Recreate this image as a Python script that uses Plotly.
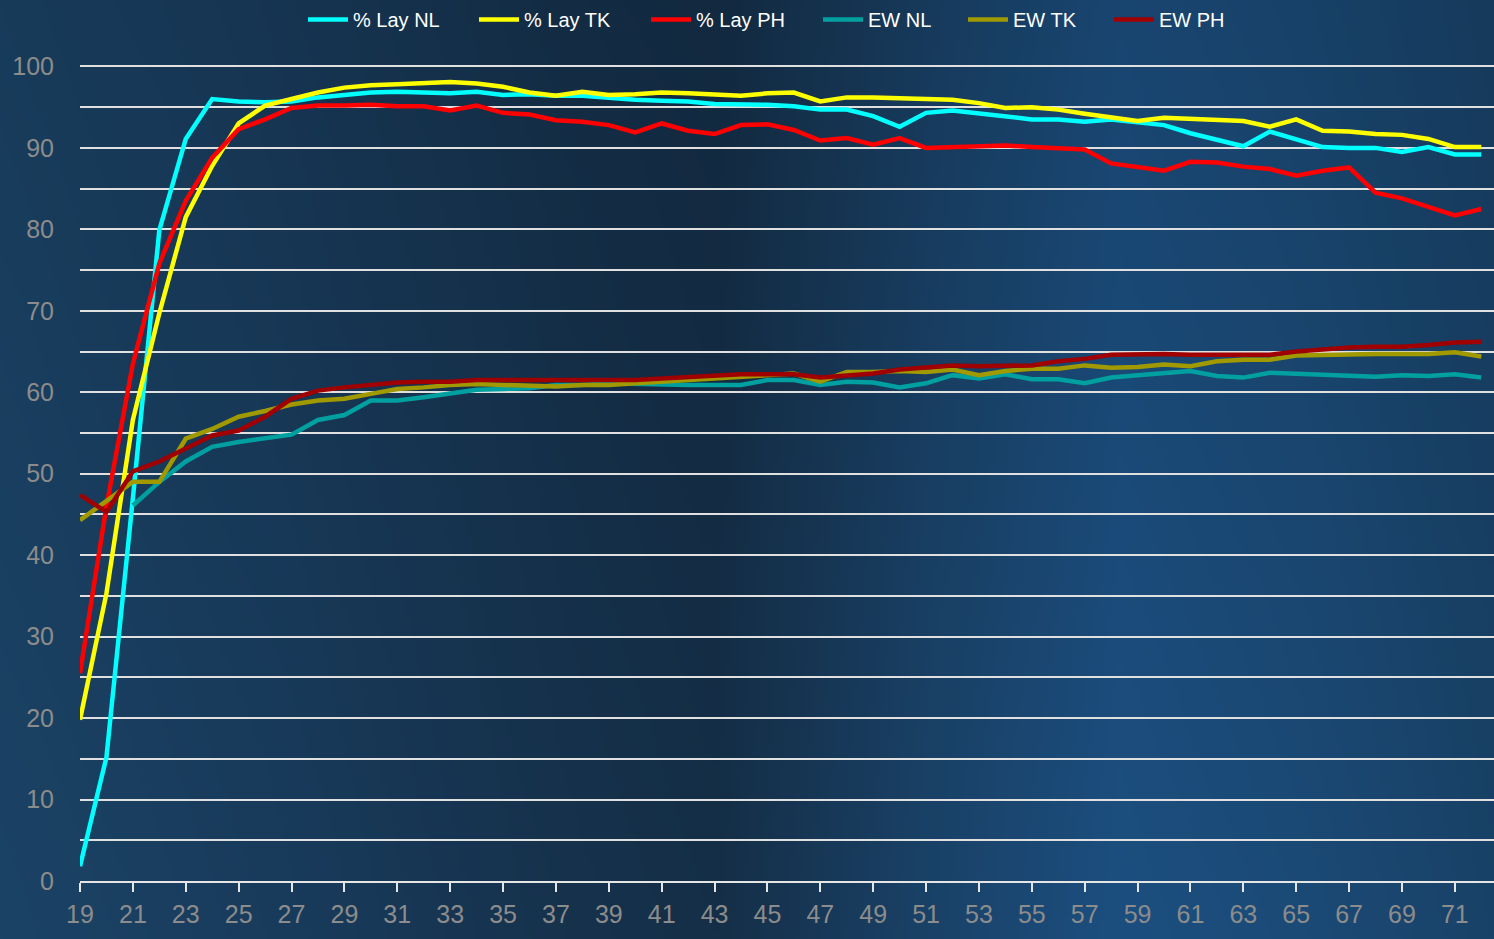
import zlib, struct, base64
import plotly.graph_objects as go

weeks = list(range(19, 73))

lay_nl = [1.8, 15.2, 47.0, 79.9, 91.1, 96.0, 95.7, 95.6, 95.7, 96.2, 96.5, 96.8, 96.9, 96.8, 96.7,
          96.9, 96.5, 96.6, 96.4, 96.4, 96.1, 95.9, 95.8, 95.7, 95.4, 95.4, 95.3, 95.1, 94.7, 94.7,
          93.9, 92.6, 94.3, 94.6, 94.2, 93.9, 93.5, 93.5, 93.2, 93.5, 93.2, 92.8, 91.8, 91.0, 90.2,
          92.0, 91.1, 90.1, 90.0, 90.0, 89.5, 90.1, 89.2, 89.2]
lay_tk = [19.8, 35.3, 56.6, 69.7, 81.5, 87.8, 93.0, 95.2, 96.0, 96.8, 97.4, 97.7, 97.8, 98.0, 98.1,
          97.9, 97.5, 96.8, 96.4, 96.9, 96.5, 96.6, 96.8, 96.7, 96.6, 96.4, 96.7, 96.8, 95.7, 96.2,
          96.2, 96.1, 96.0, 95.9, 95.5, 94.9, 95.0, 94.7, 94.2, 93.8, 93.3, 93.7, 93.6, 93.5, 93.3,
          92.6, 93.5, 92.1, 92.0, 91.7, 91.6, 91.1, 90.1, 90.1]
lay_ph = [25.5, 46.0, 63.5, 75.8, 83.5, 88.8, 92.3, 93.5, 94.9, 95.2, 95.2, 95.3, 95.1, 95.1, 94.6,
          95.2, 94.3, 94.1, 93.4, 93.2, 92.8, 91.9, 93.0, 92.1, 91.7, 92.8, 92.9, 92.2, 90.9, 91.2,
          90.4, 91.2, 90.0, 90.1, 90.2, 90.3, 90.1, 90.0, 89.8, 88.1, 87.6, 87.2, 88.3, 88.2, 87.7,
          87.4, 86.6, 87.2, 87.6, 84.5, 83.8, 82.7, 81.7, 82.5]
ew_nl = [None, None, 46.1, 49.0, 51.5, 53.3, 53.9, 54.4, 54.8, 56.6, 57.2, 59.0, 59.0, 59.4, 59.8,
         60.3, 60.4, 60.5, 60.9, 60.9, 61.1, 61.0, 60.9, 60.9, 60.9, 60.9, 61.5, 61.5, 60.9, 61.3,
         61.2, 60.6, 61.1, 62.1, 61.7, 62.2, 61.6, 61.6, 61.1, 61.8, 62.1, 62.3, 62.6, 62.0, 61.8,
         62.4, 62.3, 62.1, 62.0, 61.9, 62.1, 62.0, 62.2, 61.8]
ew_tk = [44.3, 46.7, 49.0, 49.0, 54.3, 55.5, 57.0, 57.7, 58.5, 59.0, 59.2, 59.8, 60.4, 60.6, 60.9,
         61.0, 60.9, 60.7, 60.7, 60.9, 60.9, 61.1, 61.3, 61.5, 61.7, 61.8, 62.0, 62.3, 61.3, 62.5,
         62.5, 62.6, 62.5, 62.8, 62.1, 62.6, 62.9, 62.9, 63.3, 63.0, 63.1, 63.4, 63.2, 63.8, 64.0,
         64.0, 64.5, 64.6, 64.6, 64.7, 64.7, 64.7, 64.9, 64.4]
ew_ph = [47.4, 45.3, 50.3, 51.5, 53.1, 54.7, 55.3, 57.0, 59.2, 60.2, 60.6, 60.9, 61.2, 61.3, 61.3,
         61.5, 61.5, 61.5, 61.6, 61.5, 61.5, 61.5, 61.7, 61.9, 62.0, 62.2, 62.2, 62.2, 61.8, 62.0,
         62.3, 62.8, 63.0, 63.3, 63.2, 63.2, 63.3, 63.8, 64.1, 64.6, 64.7, 64.7, 64.6, 64.6, 64.5,
         64.6, 65.0, 65.3, 65.5, 65.6, 65.6, 65.8, 66.1, 66.2]

series_names = ["% Lay NL", "% Lay TK", "% Lay PH", "EW NL", "EW TK", "EW PH"]
series_values = [lay_nl, lay_tk, lay_ph, ew_nl, ew_tk, ew_ph]
series_colors = ["#00FFFF", "#FFFF00", "#FF0000", "#00A0A0", "#A09A00", "#A00000"]
x_tick_labels = [str(w) for w in range(19, 72, 2)]
y_tick_labels = [str(v) for v in range(0, 101, 10)]
legend_px = [305, 476, 648, 820, 965, 1111]  # left pixel of each legend entry

# ---- background gradient image (generated locally as PNG) ----
W_IMG, H_IMG = 300, 190
stops = [(0.0, (27, 67, 102)), (0.18, (25, 60, 93)), (0.38, (22, 50, 77)), (0.48, (21, 47, 72)),
         (0.62, (26, 66, 104)), (0.75, (28, 79, 128)), (0.88, (27, 74, 118)), (1.0, (25, 66, 104))]


def lerp_color(t):
    for (t0, c0), (t1, c1) in zip(stops[:-1], stops[1:]):
        if t0 <= t <= t1:
            f = (t - t0) / (t1 - t0) if t1 > t0 else 0
            return [c0[i] + (c1[i] - c0[i]) * f for i in range(3)]
    return list(stops[-1][1])


rows = []
for j in range(H_IMG):
    v = j / (H_IMG - 1)
    row = bytearray([0])
    for i in range(W_IMG):
        c = lerp_color(i / (W_IMG - 1))
        k = 0.88 + 0.12 * v
        row += bytes(int(max(0, min(255, ch * k))) for ch in c)
    rows.append(bytes(row))
raw = b"".join(rows)


def chunk(tag, data):
    return struct.pack(">I", len(data)) + tag + data + struct.pack(">I", zlib.crc32(tag + data) & 0xFFFFFFFF)


png = b"\x89PNG\r\n\x1a\n" + chunk(b"IHDR", struct.pack(">IIBBBBB", W_IMG, H_IMG, 8, 2, 0, 0, 0)) \
      + chunk(b"IDAT", zlib.compress(raw, 9)) + chunk(b"IEND", b"")
bg_uri = "data:image/png;base64," + base64.b64encode(png).decode()

FIG_W, FIG_H = 1494, 939
YTOP = 100.3
ML, MR, MB = 80, 0, 58
MT = 66 - round((YTOP - 100) * 8.15)
PW, PH = FIG_W - ML - MR, FIG_H - MT - MB

fig = go.Figure()
legend_layouts = {}
for idx, (name, vals, col, lx) in enumerate(zip(series_names, series_values, series_colors, legend_px)):
    key = "legend" if idx == 0 else f"legend{idx + 1}"
    fig.add_trace(go.Scatter(x=weeks, y=vals, name=name, mode="lines", showlegend=True,
                             line=dict(color=col, width=4.5), connectgaps=False, legend=key))
    legend_layouts[key] = dict(orientation="h", x=(lx - 2 - ML) / PW, xanchor="left",
                               y=1 + MT / PH, yanchor="top",
                               font=dict(size=20, color="#ffffff"), bgcolor="rgba(0,0,0,0)",
                               itemwidth=40)

fig.update_layout(
    width=FIG_W, height=FIG_H,
    showlegend=True,
    margin=dict(l=ML, r=MR, t=MT, b=MB),
    paper_bgcolor="#173a5a",
    plot_bgcolor="rgba(0,0,0,0)",
    font=dict(family="Liberation Sans, Arial, sans-serif", color="#8c8c8c"),
    images=[dict(source=bg_uri, xref="paper", yref="paper",
                 x=-ML / PW, y=1 + MT / PH, sizex=FIG_W / PW, sizey=FIG_H / PH,
                 xanchor="left", yanchor="top", sizing="stretch", layer="below")],
    xaxis=dict(range=[19, 72.48], tickmode="array", tickvals=list(range(19, 72, 2)),
               ticktext=x_tick_labels, showgrid=False, zeroline=False,
               showline=True, linecolor="#e6e6e6", linewidth=2,
               ticks="outside", ticklen=9, tickwidth=1.5, tickcolor="#e6e6e6",
               tickfont=dict(size=25, color="#8c8c8c"), ticklabelstandoff=1),
    yaxis=dict(range=[0, YTOP], tickmode="array", tickvals=list(range(0, 101, 10)),
               ticktext=y_tick_labels, showgrid=True, gridcolor="#e0e0e0", gridwidth=2,
               zeroline=False, showline=False, ticks="",
               minor=dict(dtick=5, tick0=0, showgrid=True, gridcolor="#e0e0e0", gridwidth=2),
               tickfont=dict(size=25, color="#8c8c8c"), ticklabelstandoff=25),
    **legend_layouts,
)

fig.write_html("out.html", config={"displayModeBar": False},
               post_script="document.body.style.margin='0';document.body.style.overflow='hidden';")
